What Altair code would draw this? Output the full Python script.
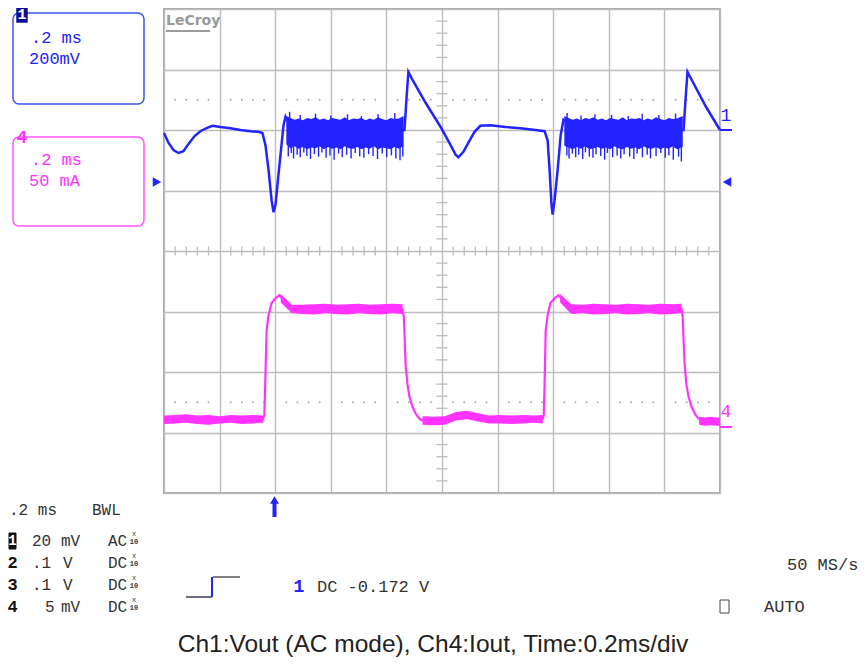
import altair as alt
import pandas as pd

# ---------------- data: time in ms (0.2 ms/div), amplitude in screen divisions ----------------
x_grid = [0.0, 0.2, 0.4, 0.6, 0.8, 1.0, 1.2, 1.4, 1.6, 1.8, 2.0]
y_grid = [-4, -3, -2, -1, 0, 1, 2, 3, 4]

# Ch1 (Vout, AC) main trace
ch1_t = [0.000, 0.016, 0.034, 0.052, 0.070, 0.088, 0.110, 0.131, 0.153, 0.174, 0.203, 0.239,
         0.275, 0.311, 0.340, 0.354, 0.365, 0.376, 0.387, 0.394, 0.401, 0.408, 0.419, 0.430,
         0.437, 0.450, 0.500, 0.550, 0.600, 0.650, 0.700, 0.750, 0.800, 0.850, 0.865, 0.872,
         0.879, 0.894, 0.941, 0.995, 1.031, 1.049, 1.059, 1.077, 1.095, 1.117, 1.138, 1.174,
         1.228, 1.282, 1.336, 1.369, 1.380, 1.387, 1.394, 1.398, 1.405, 1.416, 1.427, 1.437,
         1.450, 1.500, 1.550, 1.600, 1.650, 1.700, 1.750, 1.800, 1.850, 1.869, 1.876, 1.883,
         1.898, 1.950, 2.000]
ch1_v = [1.95, 1.79, 1.67, 1.62, 1.65, 1.77, 1.90, 1.98, 2.03, 2.07, 2.05, 2.03,
         2.00, 1.98, 1.97, 1.95, 1.75, 1.34, 0.84, 0.64, 0.76, 1.09, 1.59, 2.08,
         2.22, 2.10, 1.98, 1.97, 1.99, 1.97, 1.98, 1.97, 1.99, 1.98, 2.00, 2.50,
         2.96, 2.83, 2.45, 2.05, 1.75, 1.59, 1.55, 1.64, 1.79, 1.97, 2.07, 2.08,
         2.05, 2.03, 2.00, 1.98, 1.83, 1.34, 0.76, 0.60, 0.84, 1.34, 1.92, 2.17,
         2.12, 1.98, 1.97, 1.98, 1.97, 1.99, 1.97, 1.98, 1.98, 2.00, 2.50, 2.96,
         2.83, 2.38, 2.00]

# Ch1 switching-noise core envelope (two bursts)
band1_t = [0.440, 0.455, 0.470, 0.485, 0.500, 0.515, 0.530, 0.545, 0.560, 0.575, 0.590, 0.605,
           0.620, 0.635, 0.650, 0.665, 0.680, 0.695, 0.710, 0.725, 0.740, 0.755, 0.770, 0.785,
           0.800, 0.815, 0.830, 0.845, 0.862]
band2_t = [1.440, 1.455, 1.470, 1.485, 1.500, 1.515, 1.530, 1.545, 1.560, 1.575, 1.590, 1.605,
           1.620, 1.635, 1.650, 1.665, 1.680, 1.695, 1.710, 1.725, 1.740, 1.755, 1.770, 1.785,
           1.800, 1.815, 1.830, 1.845, 1.866]
band_hi = [2.23, 2.20, 2.17, 2.19, 2.16, 2.20, 2.18, 2.21, 2.17, 2.19, 2.16, 2.20,
           2.18, 2.17, 2.21, 2.16, 2.19, 2.18, 2.20, 2.16, 2.19, 2.17, 2.21, 2.18,
           2.16, 2.20, 2.18, 2.19, 2.23]
band1_lo = [1.76, 1.70, 1.73, 1.69, 1.72, 1.68, 1.71, 1.70, 1.73, 1.68, 1.72, 1.69,
            1.71, 1.68, 1.73, 1.70, 1.69, 1.72, 1.68, 1.71, 1.69, 1.73, 1.68, 1.71,
            1.70, 1.68, 1.72, 1.69, 1.74]
band2_lo = [1.74, 1.71, 1.68, 1.72, 1.69, 1.73, 1.68, 1.70, 1.72, 1.69, 1.71, 1.68,
            1.73, 1.70, 1.68, 1.72, 1.69, 1.71, 1.68, 1.73, 1.70, 1.69, 1.72, 1.68,
            1.71, 1.69, 1.73, 1.68, 1.72]

# Ch1 downward noise spikes
dspike_t = [0.447, 0.458, 0.466, 0.479, 0.490, 0.503, 0.514, 0.527, 0.541, 0.556, 0.568, 0.583,
            0.597, 0.612, 0.628, 0.641, 0.657, 0.673, 0.688, 0.704, 0.719, 0.736, 0.752, 0.768,
            0.785, 0.801, 0.818, 0.834, 0.849, 0.859,
            1.449, 1.457, 1.469, 1.481, 1.492, 1.506, 1.516, 1.530, 1.543, 1.554, 1.571, 1.585,
            1.595, 1.614, 1.630, 1.643, 1.655, 1.675, 1.690, 1.702, 1.721, 1.738, 1.750, 1.770,
            1.787, 1.803, 1.816, 1.832, 1.851, 1.861]
dspike_lo = [1.56, 1.62, 1.53, 1.59, 1.55, 1.63, 1.57, 1.52, 1.60, 1.56, 1.63, 1.54,
             1.58, 1.51, 1.61, 1.55, 1.59, 1.53, 1.62, 1.56, 1.54, 1.60, 1.57, 1.52,
             1.61, 1.55, 1.58, 1.53, 1.50, 1.56,
             1.58, 1.53, 1.61, 1.55, 1.59, 1.52, 1.63, 1.56, 1.54, 1.60, 1.57, 1.51,
             1.62, 1.55, 1.58, 1.53, 1.60, 1.56, 1.52, 1.61, 1.55, 1.59, 1.53, 1.57,
             1.62, 1.54, 1.58, 1.51, 1.56, 1.48]
# Ch1 upward noise spikes
uspike_t = [0.452, 0.490, 0.545, 0.600, 0.660, 0.710, 0.770, 0.830,
            1.450, 1.500, 1.550, 1.610, 1.670, 1.720, 1.780, 1.840]
uspike_hi = [2.30, 2.25, 2.27, 2.24, 2.26, 2.23, 2.26, 2.28,
             2.28, 2.24, 2.26, 2.25, 2.23, 2.27, 2.25, 2.27]

# Ch4 (Iout) main trace
ch4_t = [0.000, 0.050, 0.100, 0.150, 0.200, 0.250, 0.300, 0.355, 0.361, 0.364, 0.369, 0.376,
         0.387, 0.401, 0.415, 0.430, 0.444, 0.462, 0.550, 0.650, 0.750, 0.858, 0.863, 0.866,
         0.869, 0.876, 0.883, 0.894, 0.908, 0.923, 0.944, 1.013, 1.049, 1.085, 1.120, 1.174,
         1.250, 1.300, 1.362, 1.366, 1.369, 1.373, 1.380, 1.390, 1.405, 1.419, 1.434, 1.448,
         1.466, 1.550, 1.650, 1.750, 1.862, 1.866, 1.869, 1.873, 1.879, 1.887, 1.898, 1.912,
         1.930, 1.970, 2.000]
ch4_v = [-2.80, -2.76, -2.77, -2.78, -2.79, -2.80, -2.79, -2.78, -2.72, -2.21, -1.31, -1.06,
         -0.86, -0.78, -0.73, -0.81, -0.91, -0.96, -0.97, -0.96, -0.97, -0.96, -1.10, -1.47,
         -1.88, -2.21, -2.41, -2.58, -2.71, -2.79, -2.82, -2.81, -2.73, -2.71, -2.75, -2.79,
         -2.78, -2.78, -2.78, -2.72, -2.21, -1.31, -1.06, -0.86, -0.78, -0.73, -0.81, -0.91,
         -0.96, -0.97, -0.96, -0.97, -0.96, -1.10, -1.47, -1.88, -2.21, -2.41, -2.58, -2.71,
         -2.80, -2.82, -2.82]

# Ch4 noise envelope per flat segment
env4_A_t = [0.000, 0.040, 0.080, 0.120, 0.160, 0.200, 0.240, 0.280, 0.320, 0.358]
env4_A_hi = [-2.72, -2.71, -2.70, -2.72, -2.71, -2.73, -2.71, -2.72, -2.71, -2.72]
env4_A_lo = [-2.86, -2.85, -2.84, -2.86, -2.87, -2.85, -2.84, -2.86, -2.85, -2.84]
env4_B_t = [0.420, 0.460, 0.500, 0.540, 0.580, 0.620, 0.660, 0.700, 0.740, 0.780, 0.820, 0.858]
env4_B_hi = [-0.71, -0.89, -0.89, -0.88, -0.87, -0.89, -0.88, -0.87, -0.89, -0.88, -0.87, -0.88]
env4_B_lo = [-0.85, -1.03, -1.04, -1.05, -1.03, -1.04, -1.05, -1.03, -1.04, -1.05, -1.03, -1.04]
env4_C_t = [0.930, 0.970, 1.010, 1.050, 1.090, 1.130, 1.170, 1.210, 1.250, 1.290, 1.330, 1.362]
env4_C_hi = [-2.73, -2.74, -2.73, -2.66, -2.64, -2.68, -2.72, -2.71, -2.72, -2.71, -2.72, -2.71]
env4_C_lo = [-2.87, -2.88, -2.87, -2.80, -2.78, -2.82, -2.85, -2.85, -2.86, -2.85, -2.84, -2.85]
env4_D_t = [1.425, 1.465, 1.505, 1.545, 1.585, 1.625, 1.665, 1.705, 1.745, 1.785, 1.825, 1.862]
env4_D_hi = [-0.71, -0.88, -0.89, -0.87, -0.88, -0.89, -0.87, -0.88, -0.89, -0.87, -0.88, -0.87]
env4_D_lo = [-0.85, -1.04, -1.03, -1.05, -1.04, -1.03, -1.05, -1.04, -1.03, -1.05, -1.04, -1.03]
env4_E_t = [1.925, 1.945, 1.965, 1.985, 2.000]
env4_E_hi = [-2.74, -2.75, -2.74, -2.75, -2.75]
env4_E_lo = [-2.87, -2.89, -2.88, -2.89, -2.89]

# minor graticule marks
minor_t = [round(k * 0.04, 2) for k in range(51) if k % 5]
minor_v = [round(k * 0.2, 1) for k in range(-20, 21) if k % 5]
dot_rows = [2.5, -2.5]

# ---------------- styling ----------------
BLUE = "#2323ff"
PINK = "#ff33ff"
GRID = "#bdbdbd"
TXT = "#333333"
MONO = "Liberation Mono"
OX, OY = 164, 9  # page position of the graticule's top-left corner

xscale = alt.Scale(domain=[0, 2], nice=False, zero=False)
yscale = alt.Scale(domain=[-4, 4], nice=False, zero=False)
xaxis = alt.Axis(values=x_grid, grid=True, labels=False, ticks=False, domain=False, title=None,
                 gridColor=GRID, gridWidth=1.4)
yaxis = alt.Axis(values=y_grid, grid=True, labels=False, ticks=False, domain=False, title=None,
                 gridColor=GRID, gridWidth=1.4)


def X(f):
    return alt.X(f, type="quantitative", scale=xscale, axis=xaxis)


def Y(f):
    return alt.Y(f, type="quantitative", scale=yscale, axis=yaxis)


ch1 = pd.DataFrame({"t": ch1_t, "v": ch1_v})
ch4 = pd.DataFrame({"t": ch4_t, "v": ch4_v})
band = pd.concat([
    pd.DataFrame({"t": band1_t, "hi": band_hi, "lo": band1_lo, "seg": "a"}),
    pd.DataFrame({"t": band2_t, "hi": band_hi, "lo": band2_lo, "seg": "b"}),
])
dspikes = pd.DataFrame({"t": dspike_t, "lo": dspike_lo})
uspikes = pd.DataFrame({"t": uspike_t, "hi": uspike_hi})
env4 = pd.concat([
    pd.DataFrame({"t": env4_A_t, "hi": env4_A_hi, "lo": env4_A_lo, "seg": "A"}),
    pd.DataFrame({"t": env4_B_t, "hi": env4_B_hi, "lo": env4_B_lo, "seg": "B"}),
    pd.DataFrame({"t": env4_C_t, "hi": env4_C_hi, "lo": env4_C_lo, "seg": "C"}),
    pd.DataFrame({"t": env4_D_t, "hi": env4_D_hi, "lo": env4_D_lo, "seg": "D"}),
    pd.DataFrame({"t": env4_E_t, "hi": env4_E_hi, "lo": env4_E_lo, "seg": "E"}),
])
hticks = pd.DataFrame({"t": minor_t})
vticks = pd.DataFrame({"v": minor_v})
dots = pd.DataFrame([{"t": t, "v": r} for r in dot_rows for t in minor_t])

ONE = pd.DataFrame({"k": [0]})


def txt(s, px, py, color=TXT, size=17, font=MONO, align="left", weight="normal",
        baseline="middle"):
    return alt.Chart(ONE).mark_text(text=s, align=align, baseline=baseline, font=font,
                                    fontSize=size, fontWeight=weight, color=color).encode(
        x=alt.value(px - OX), y=alt.value(py - OY))


def hline(px1, px2, py, color, w=1.5):
    return alt.Chart(ONE).mark_rule(color=color, strokeWidth=w).encode(
        x=alt.value(px1 - OX), x2=alt.value(px2 - OX), y=alt.value(py - OY))


def vline(px, py1, py2, color, w=1.5):
    return alt.Chart(ONE).mark_rule(color=color, strokeWidth=w).encode(
        x=alt.value(px - OX), y=alt.value(py1 - OY), y2=alt.value(py2 - OY))


def box(px1, py1, px2, py2, stroke, fill=None, r=0, w=1.5):
    kw = dict(stroke=stroke, strokeWidth=w, cornerRadius=r)
    if fill:
        kw["fill"] = fill
        kw["fillOpacity"] = 1
    else:
        kw["fillOpacity"] = 0
    return alt.Chart(ONE).mark_rect(**kw).encode(
        x=alt.value(px1 - OX), x2=alt.value(px2 - OX),
        y=alt.value(py1 - OY), y2=alt.value(py2 - OY))


def tri(shape, px, py, color, size=95):
    return alt.Chart(ONE).mark_point(shape=shape, filled=True, size=size, color=color,
                                     opacity=1).encode(x=alt.value(px - OX), y=alt.value(py - OY))


# ---------------- graticule ----------------
grid_base = alt.Chart(ch1).mark_line(opacity=0).encode(x=X("t"), y=Y("v"))
hminor = alt.Chart(hticks).mark_rule(color=GRID, strokeWidth=1.3).encode(
    x=X("t"), y=alt.datum(-0.075), y2=alt.datum(0.075))
vminor = alt.Chart(vticks).mark_rule(color=GRID, strokeWidth=1.3).encode(
    y=Y("v"), x=alt.datum(0.98), x2=alt.datum(1.02))
dotted = alt.Chart(dots).mark_square(size=2.5, color="#9a9a9a", opacity=1).encode(
    x=X("t"), y=Y("v"))

# ---------------- traces ----------------
ch4_env = alt.Chart(env4).mark_area(color=PINK, opacity=1).encode(
    x=X("t"), y=Y("hi"), y2="lo", detail="seg")
ch4_line = alt.Chart(ch4).mark_line(color=PINK, strokeWidth=2.2).encode(x=X("t"), y=Y("v"))
ch1_band = alt.Chart(band).mark_area(color=BLUE, opacity=1).encode(
    x=X("t"), y=Y("hi"), y2="lo", detail="seg")
ch1_dspk = alt.Chart(dspikes).mark_rule(color=BLUE, strokeWidth=1.4).encode(
    x=X("t"), y=Y("lo"), y2=alt.datum(1.75))
ch1_uspk = alt.Chart(uspikes).mark_rule(color=BLUE, strokeWidth=1.4).encode(
    x=X("t"), y=Y("hi"), y2=alt.datum(2.1))
ch1_line = alt.Chart(ch1).mark_line(color=BLUE, strokeWidth=2.5).encode(x=X("t"), y=Y("v"))

# ---------------- screen annotations ----------------
ann = [
    # LeCroy logo
    txt("LeCroy", 166, 21, color="#9a9a9a", size=14, font="DejaVu Sans", weight="bold"),
    hline(166, 210, 31, "#9a9a9a", 2),
    # channel 1 box
    box(13, 13, 144, 104, "#3f55ee", r=6),
    box(17, 5, 27, 22, "#0c0c96", fill="#0c0c96"),
    txt("1", 22, 13.5, color="white", size=15, align="center", weight="bold"),
    txt(".2 ms", 31, 38, color=BLUE),
    txt("200mV", 29, 59, color=BLUE),
    # channel 4 box
    box(13, 137, 144, 226, "#ff55ff", r=6),
    txt("4", 22, 138, color=PINK, size=18, align="center", weight="bold"),
    txt(".2 ms", 31, 160, color=PINK),
    txt("50 mA", 29, 181, color=PINK),
    # offset markers
    tri("triangle-right", 157, 182, BLUE),
    tri("triangle-left", 727, 182, BLUE),
    txt("1", 726, 116, color=BLUE, size=18, align="center"),
    hline(720, 732, 130, BLUE, 2),
    txt("4", 726, 412, color=PINK, size=18, align="center"),
    hline(720, 732, 427, PINK, 2),
    # trigger position arrow
    vline(274.5, 503, 517, BLUE, 4),
    tri("triangle-up", 274.5, 500, BLUE, 80),
    # lower-left settings panel
    txt(".2 ms", 9, 510, size=16),
    txt("BWL", 92, 510, size=16),
    box(9, 533, 16, 549, "#111111", fill="#111111", w=1),
    txt("1", 12.5, 541, color="white", size=14, align="center", weight="bold"),
    txt("20", 32, 541, size=16),
    txt("mV", 61, 541, size=16),
    txt("AC", 108, 541, size=16),
    txt("2", 12.5, 563, color="#111111", size=17, align="center", weight="bold"),
    txt(".1", 32, 563, size=16),
    txt("V", 63, 563, size=16),
    txt("DC", 108, 563, size=16),
    txt("3", 12.5, 585, color="#111111", size=17, align="center", weight="bold"),
    txt(".1", 32, 585, size=16),
    txt("V", 63, 585, size=16),
    txt("DC", 108, 585, size=16),
    txt("4", 12.5, 607, color="#111111", size=17, align="center", weight="bold"),
    txt("5", 45, 607, size=16),
    txt("mV", 61, 607, size=16),
    txt("DC", 108, 607, size=16),
]
for ry in [541, 563, 585, 607]:
    ann.append(txt("x", 134, ry - 4, size=7, align="center", baseline="bottom"))
    ann.append(txt("10", 134, ry - 3, size=7, align="center", weight="bold", baseline="top"))
ann += [
    # trigger symbol and level
    hline(186, 212, 597, "#3a3a5a", 1.5),
    vline(212, 577, 597, BLUE, 2),
    hline(213, 240, 577, "#555555", 1.5),
    txt("1", 299, 587, color=BLUE, size=18, align="center", weight="bold"),
    txt("DC -0.172 V", 317, 587),
    txt("50 MS/s", 787, 565),
    box(720, 600, 729, 613, "#444444", w=1),
    txt("AUTO", 764, 607),
    # caption
    txt("Ch1:Vout (AC mode), Ch4:Iout, Time:0.2ms/div", 433, 652, color="#222222", size=24.5,
        font="Liberation Sans", align="center", baseline="alphabetic"),
]

chart = alt.layer(grid_base, dotted, hminor, vminor, ch4_env, ch4_line, ch1_band, ch1_dspk,
                  ch1_uspk, ch1_line, *ann).properties(
    width=556, height=484,
    padding={"left": 156, "top": 1, "right": 138, "bottom": 164},
    autosize=alt.AutoSizeParams(type="none"),
    background="white",
).configure_view(stroke="#a9a9a9", strokeWidth=2)

chart.save("out.html", embed_options={"renderer": "svg", "actions": False})
